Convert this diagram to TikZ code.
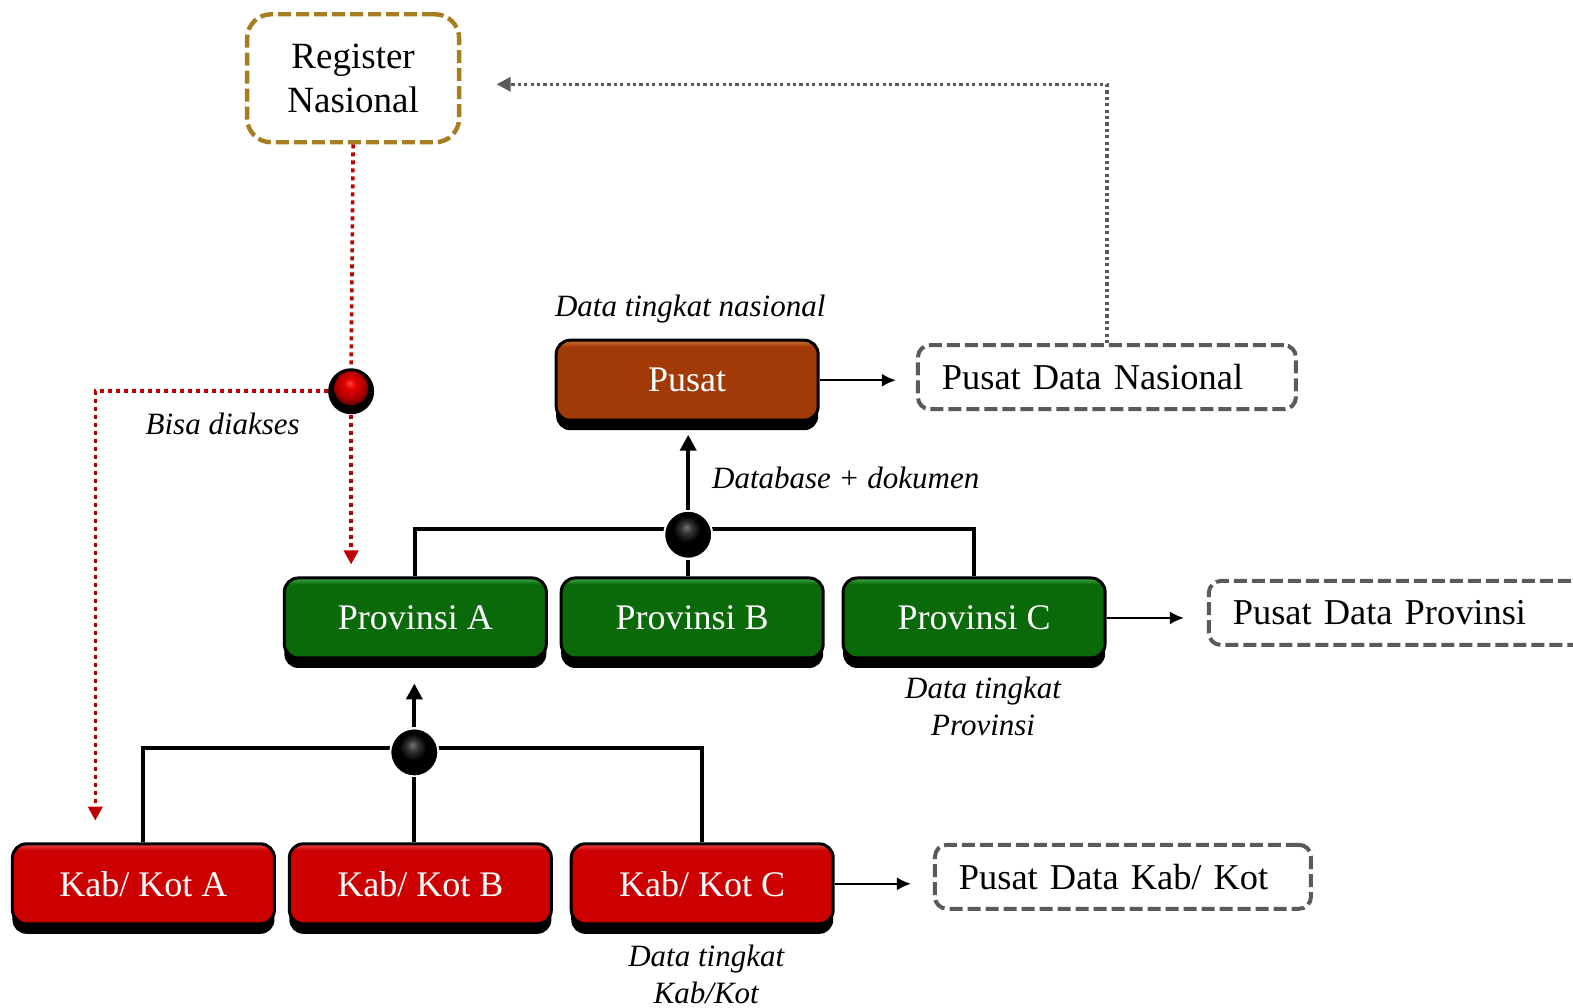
\documentclass[tikz,border=0pt]{standalone}
\usepackage{fontspec}
\setmainfont{Liberation Serif}
\usetikzlibrary{arrows.meta,shadows,calc}
\definecolor{rustB}{HTML}{A23A08}
\definecolor{rustL}{HTML}{D0703A}
\definecolor{rustD}{HTML}{7E2C06}
\definecolor{grnB}{HTML}{0A6A0A}
\definecolor{grnL}{HTML}{45A845}
\definecolor{grnD}{HTML}{064F06}
\definecolor{redB}{HTML}{CC0000}
\definecolor{redL}{HTML}{F04848}
\definecolor{redD}{HTML}{990000}
\definecolor{gold}{HTML}{A87C20}
\definecolor{dgray}{HTML}{5A5A5A}
\definecolor{dotred}{HTML}{C00000}
\pgfdeclareverticalshading{glossrust}{100bp}{color(0bp)=(rustD); color(25bp)=(rustD); color(27bp)=(rustB); color(71bp)=(rustB); color(75bp)=(rustL); color(100bp)=(rustL)}
\pgfdeclareverticalshading{glossgrn}{100bp}{color(0bp)=(grnD); color(25bp)=(grnD); color(27bp)=(grnB); color(71bp)=(grnB); color(75bp)=(grnL); color(100bp)=(grnL)}
\pgfdeclareverticalshading{glossred}{100bp}{color(0bp)=(redD); color(25bp)=(redD); color(27bp)=(redB); color(71bp)=(redB); color(75bp)=(redL); color(100bp)=(redL)}
\pgfdeclareradialshading{blackglobe}{\pgfpoint{-2bp}{8bp}}{color(0bp)=(black!55); color(6bp)=(black!80); color(14bp)=(black); color(25bp)=(black); color(50bp)=(black)}
\pgfdeclareradialshading{redglobe}{\pgfpoint{-2bp}{8bp}}{color(0bp)=(red!75!white); color(8bp)=(red!90!black); color(20bp)=(red!70!black); color(25bp)=(red!50!black); color(50bp)=(black)}
\begin{document}
\begin{tikzpicture}[x=0.5016pt,y=-0.5016pt,
  levelbox/.style={rectangle, rounded corners=7pt, draw=black, line width=1.5pt,
    minimum width=131pt, minimum height=40pt, inner sep=0pt, text=white,
    font=\fontsize{18}{20}\selectfont, general shadow={fill=black, shadow yshift=-5pt}},
  rustbox/.style={levelbox, shade, shading=glossrust},
  grnbox/.style={levelbox, shade, shading=glossgrn},
  redbox/.style={levelbox, shade, shading=glossred},
  databox/.style={rectangle, rounded corners=6pt, draw=dgray, line width=2pt,
    dash pattern=on 6.5pt off 2.5pt, minimum height=32pt, inner xsep=12pt, inner ysep=0pt,
    align=left, font=\fontsize{18.2}{21}\selectfont, anchor=west},
  regbox/.style={rectangle, rounded corners=12pt, draw=gold, line width=2.2pt,
    dash pattern=on 6.5pt off 2.5pt, minimum width=106pt, minimum height=64pt,
    align=center, font=\fontsize{18.5}{22}\selectfont},
  lab/.style={font=\fontsize{15.5}{18.5}\selectfont\itshape, align=center, inner sep=0pt},
  conn/.style={draw=black, line width=2pt},
  thinarrow/.style={draw=black, line width=1pt, -{Latex[length=7pt,width=6.5pt]}},
  rdot/.style={draw=dotred, line width=1.8pt, dash pattern=on 2pt off 2pt},
  gdot/.style={draw=dgray, line width=1.6pt, dash pattern=on 1.6pt off 1.6pt},
  jball/.style={circle, minimum size=24pt, inner sep=0pt, shading=blackglobe, draw=white, line width=1pt}
]
\useasboundingbox (0,0) rectangle (1568,1004);

% main boxes
\node[rustbox] (pusat) at (685,379) {Pusat};
\node[grnbox] (provA) at (414,616) {Provinsi A};
\node[grnbox] (provB) at (690,616) {Provinsi B};
\node[grnbox] (provC) at (971,616) {Provinsi C};
\node[redbox] (kabA) at (143,881) {Kab/ Kot A};
\node[redbox] (kabB) at (419,881) {Kab/ Kot B};
\node[redbox] (kabC) at (700,881) {Kab/ Kot C};

% register
\node[regbox] (reg) at (352,78) {Register\\Nasional};

% data boxes
\node[databox, text width=165pt] (pdn) at (913,376) {Pusat Data Nasional};
\node[databox, text width=190pt] (pdp) at (1203,611) {Pusat Data Provinsi};
\node[databox, text width=164pt] (pdk) at (930,874) {Pusat Data Kab/ Kot};

% province-level connectors
\coordinate (hlA) at (0,527);
\draw[conn] (provA.north) |- (provC.north |- hlA) -- (provC.north);
\node[jball] (topball) at (686,533) {};
\draw[conn] (topball.south) -- (topball |- provB.north);
\draw[conn, -{Triangle[length=8pt,width=8pt]}, shorten >=6.5pt] (topball.north) -- (topball |- pusat.south);

% kab-level connectors
\coordinate (hlB) at (0,746);
\draw[conn] (kabA.north) |- (kabC.north |- hlB) -- (kabC.north);
\node[jball] (botball) at (413,750) {};
\draw[conn] (botball.south) -- (botball |- kabB.north);
\draw[conn, -{Triangle[length=8pt,width=8pt]}, shorten >=12pt] (botball.north) -- (botball |- provA.south);

% arrows to data boxes
\draw[thinarrow, shorten >=10pt] (pusat.east) -- (pusat.east -| pdn.west);
\draw[thinarrow, shorten >=11.5pt] (provC.east) -- (provC.east -| pdp.west);
\draw[thinarrow, shorten >=11pt] (kabC.east) -- (kabC.east -| pdk.west);

% grey dotted return
\coordinate (gend) at (495,84);
\draw[gdot, -{Triangle[length=7pt,width=7pt]}] (pdn.north) |- (gend);

% red ball and red dotted
\node[circle, fill=black, minimum size=23pt, inner sep=0pt] (redball) at (350,390) {};
\shade[shading=redglobe] (350,387) circle (8.5pt);
\draw[rdot] (reg.south) -- (redball.north);
\draw[rdot, -{Triangle[length=7pt,width=7pt]}, shorten >=6pt] (redball.south) -- (redball |- provA.north);
\coordinate (rdend) at (95,818);
\draw[rdot, -{Triangle[length=7pt,width=7pt]}] (redball.west) -| (rdend);

% labels
\node[lab] (l1) at (688,308) {Data tingkat nasional};
\node[lab] (l2) at (222,423) {Bisa diakses};
\node[lab] (l3) at (843,476) {Database + dokumen};
\node[lab] (l4) at (980,704) {Data tingkat\\Provinsi};
\node[lab] (l5) at (704,971) {Data tingkat\\Kab/Kot};
\end{tikzpicture}
\end{document}
